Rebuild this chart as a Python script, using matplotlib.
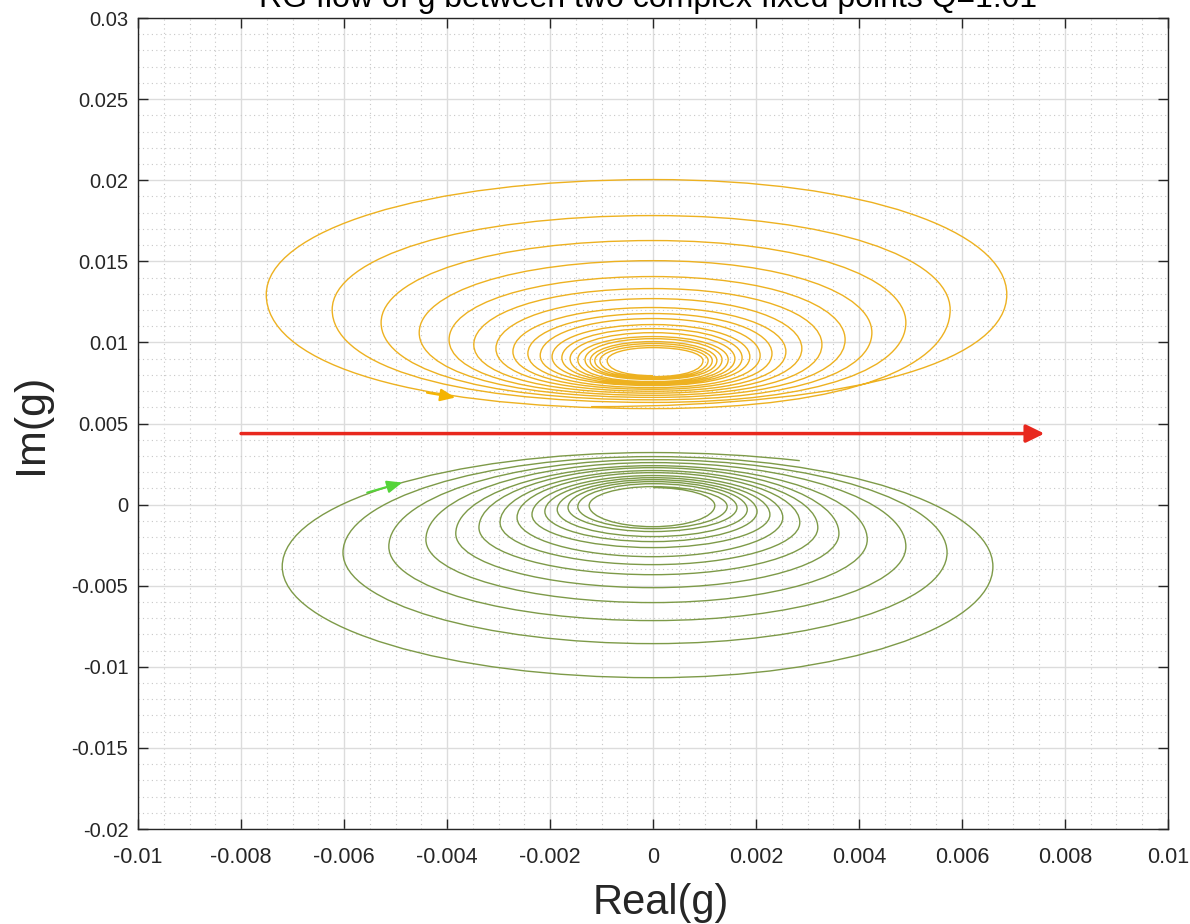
import numpy as np
import matplotlib.pyplot as plt
from matplotlib.path import Path
from matplotlib.patches import PathPatch
from matplotlib.ticker import FixedLocator, FixedFormatter, MultipleLocator

plt.rcParams['font.family'] = ['Liberation Sans', 'DejaVu Sans']

# ------------------------------------------------------------
# data
# ------------------------------------------------------------

# upper (orange) spiral, outer turn -> inner turn
orange_left_x = [-0.00751, -0.00623, -0.00528, -0.00454, -0.00396, -0.00348, -0.00305,
                 -0.00272, -0.00243, -0.00219, -0.00196, -0.00177, -0.00161, -0.00146,
                 -0.00132, -0.00122, -0.00113, -0.00103, -0.00089]
orange_right_x = [0.00687, 0.00577, 0.00491, 0.00425, 0.00373, 0.00328, 0.00289,
                  0.00258, 0.00231, 0.00208, 0.00188, 0.00173, 0.00159, 0.00146,
                  0.00134, 0.00124, 0.00115, 0.00107, 0.00097]
orange_side_y = [0.01295, 0.01202, 0.01122, 0.01060, 0.01017, 0.00986, 0.00962,
                 0.00943, 0.00931, 0.00919, 0.00912, 0.00906, 0.00900, 0.00894,
                 0.00894, 0.00888, 0.00888, 0.00888, 0.00888]
orange_top_y = [0.02004, 0.01782, 0.01628, 0.01504, 0.01406, 0.01332, 0.01270,
                0.01215, 0.01178, 0.01147, 0.01110, 0.01085, 0.01060, 0.01036,
                0.01023, 0.01005, 0.00993, 0.00980, 0.00968]
# first value is the starting point of the flow
orange_bottom_y = [0.00604, 0.00592, 0.00630, 0.00646, 0.00661, 0.00674, 0.00687,
                   0.00699, 0.00711, 0.00721, 0.00734, 0.00740, 0.00746, 0.00752,
                   0.00758, 0.00771, 0.00777, 0.00783, 0.00789, 0.00795]
orange_start_x = -0.0012
orange_arrow = [(-0.00439, 0.00690), (-0.00384, 0.00660)]

# lower (green) spiral, outer turn -> inner turn
green_left_x = [-0.00720, -0.00602, -0.00513, -0.00441, -0.00383, -0.00338, -0.00297,
                -0.00264, -0.00235, -0.00210, -0.00186, -0.00165, -0.00146, -0.00124]
green_right_x = [0.00660, 0.00571, 0.00491, 0.00416, 0.00361, 0.00320, 0.00285,
                 0.00252, 0.00227, 0.00202, 0.00183, 0.00163, 0.00144, 0.00120]
green_side_y = [-0.00382, -0.00296, -0.00259, -0.00216, -0.00179, -0.00142, -0.00111,
                -0.00080, -0.00062, -0.00043, -0.00031, -0.00018, -0.00012, -0.00006]
green_bottom_y = [-0.01067, -0.00857, -0.00715, -0.00604, -0.00512, -0.00432, -0.00370,
                  -0.00321, -0.00265, -0.00228, -0.00197, -0.00166, -0.00148, -0.00136]
green_top_y = [0.00321, 0.00296, 0.00277, 0.00259, 0.00240, 0.00228, 0.00210, 0.00197,
               0.00179, 0.00166, 0.00154, 0.00142, 0.00129, 0.00111, 0.00105]
green_end = (0.00285, 0.00271)
green_arrow = [(-0.00555, 0.00074), (-0.00487, 0.00136)]

# red arrow between the fixed points
red_arrow = [(-0.0080, 0.00438), (0.0076, 0.00438)]

x_ticks = [-0.01, -0.008, -0.006, -0.004, -0.002, 0, 0.002, 0.004, 0.006, 0.008, 0.01]
x_tick_labels = ["-0.01", "-0.008", "-0.006", "-0.004", "-0.002", "0",
                 "0.002", "0.004", "0.006", "0.008", "0.01"]
y_ticks = [-0.02, -0.015, -0.01, -0.005, 0, 0.005, 0.01, 0.015, 0.02, 0.025, 0.03]
y_tick_labels = ["-0.02", "-0.015", "-0.01", "-0.005", "0", "0.005",
                 "0.01", "0.015", "0.02", "0.025", "0.03"]


# ------------------------------------------------------------
# build a spiral path through its extreme points
# ------------------------------------------------------------

def spiral_path(points, kinds, k_end):
    verts = [points[0]]
    codes = [Path.MOVETO]
    for i in range(1, len(points)):
        p = np.array(points[i - 1])
        q = np.array(points[i])
        kp, kq = kinds[i - 1], kinds[i]
        if kq == "E":
            verts += [(q[0] * 0.5, p[1]), tuple(q)]
            codes += [Path.CURVE3, Path.CURVE3]
            continue
        if kp in "LR":
            corner = np.array([p[0], q[1]])
        else:
            corner = np.array([q[0], p[1]])
        c1 = p + k_end[kp] * (corner - p)
        c2 = q + k_end[kq] * (corner - q)
        verts += [tuple(c1), tuple(c2), tuple(q)]
        codes += [Path.CURVE4] * 3
    return Path(verts, codes)


# orange: counter clockwise, spiralling inwards
o_pts = [(orange_start_x, orange_bottom_y[0])]
o_kinds = ["B"]
for i in range(len(orange_left_x)):
    o_pts += [(orange_right_x[i], orange_side_y[i]),
              (0.0, orange_top_y[i]),
              (orange_left_x[i], orange_side_y[i]),
              (0.0, orange_bottom_y[i + 1])]
    o_kinds += ["R", "T", "L", "B"]

# green: clockwise, spiralling outwards (built from the inside)
g_pts = [(0.0, green_top_y[-1])]
g_kinds = ["T"]
for i in range(len(green_left_x) - 1, -1, -1):
    g_pts += [(green_right_x[i], green_side_y[i]),
              (0.0, green_bottom_y[i]),
              (green_left_x[i], green_side_y[i]),
              (0.0, green_top_y[i])]
    g_kinds += ["R", "B", "L", "T"]
g_pts.append(green_end)
g_kinds.append("E")

orange_path = spiral_path(o_pts, o_kinds, {"L": 0.55, "R": 0.55, "T": 0.6, "B": 0.68})
green_path = spiral_path(g_pts, g_kinds, {"L": 0.5523, "R": 0.5523, "T": 0.5523, "B": 0.5523})

# ------------------------------------------------------------
# plot
# ------------------------------------------------------------

fig = plt.figure(figsize=(11.9, 9.24), dpi=100)
ax = fig.add_axes([0.116, 0.1028, 0.8655, 0.8777])

ax.add_patch(PathPatch(orange_path, facecolor="none", edgecolor="#EDB120", lw=1.0))
ax.add_patch(PathPatch(green_path, facecolor="none", edgecolor="#7D9A48", lw=1.0))

ax.annotate("", xy=orange_arrow[1], xytext=orange_arrow[0],
            arrowprops=dict(arrowstyle="-|>,head_length=0.6,head_width=0.25",
                            color="#F5B400", lw=1.5, mutation_scale=15,
                            shrinkA=0, shrinkB=0))
ax.annotate("", xy=green_arrow[1], xytext=green_arrow[0],
            arrowprops=dict(arrowstyle="-|>,head_length=0.6,head_width=0.25",
                            color="#55D43A", lw=1.5, mutation_scale=15,
                            shrinkA=0, shrinkB=0))
ax.annotate("", xy=red_arrow[1], xytext=red_arrow[0],
            arrowprops=dict(arrowstyle="-|>,head_length=0.55,head_width=0.27",
                            color="#E8281E", lw=2.5, mutation_scale=20,
                            shrinkA=0, shrinkB=0))

ax.set_xlim(-0.01, 0.01)
ax.set_ylim(-0.02, 0.03)

ax.xaxis.set_major_locator(FixedLocator(x_ticks))
ax.xaxis.set_major_formatter(FixedFormatter(x_tick_labels))
ax.yaxis.set_major_locator(FixedLocator(y_ticks))
ax.yaxis.set_major_formatter(FixedFormatter(y_tick_labels))
ax.xaxis.set_minor_locator(MultipleLocator(0.0005))
ax.yaxis.set_minor_locator(MultipleLocator(0.001))

ax.grid(True, which="major", color="#DCDCDC", lw=1.0)
ax.grid(True, which="minor", color="#C8C8C8", lw=0.8, linestyle=(0, (1, 3)))
ax.set_axisbelow(True)

ax.tick_params(which="major", direction="in", length=7, width=1.0,
               top=True, right=True, colors="#262626")
ax.tick_params(axis="x", which="major", labelsize=15.5, pad=13)
ax.tick_params(axis="y", which="major", labelsize=14.5, pad=7)
ax.tick_params(which="minor", length=0)
for s in ax.spines.values():
    s.set_color("#262626")
    s.set_linewidth(1.0)

ax.set_xlabel("Real(g)", fontsize=30, color="#262626", va="center")
ax.xaxis.set_label_coords(0.5075, -0.091)
ax.set_ylabel("Im(g)", fontsize=31, color="#262626", va="center")
ax.yaxis.set_label_coords(-0.104, 0.5)

fig.text(648 / 1190, 1 - 7 / 924, "RG flow of g between two complex fixed points Q=1.01",
         ha="center", va="baseline", fontsize=23, color="#000000")

fig.savefig("out.png", dpi=100)
